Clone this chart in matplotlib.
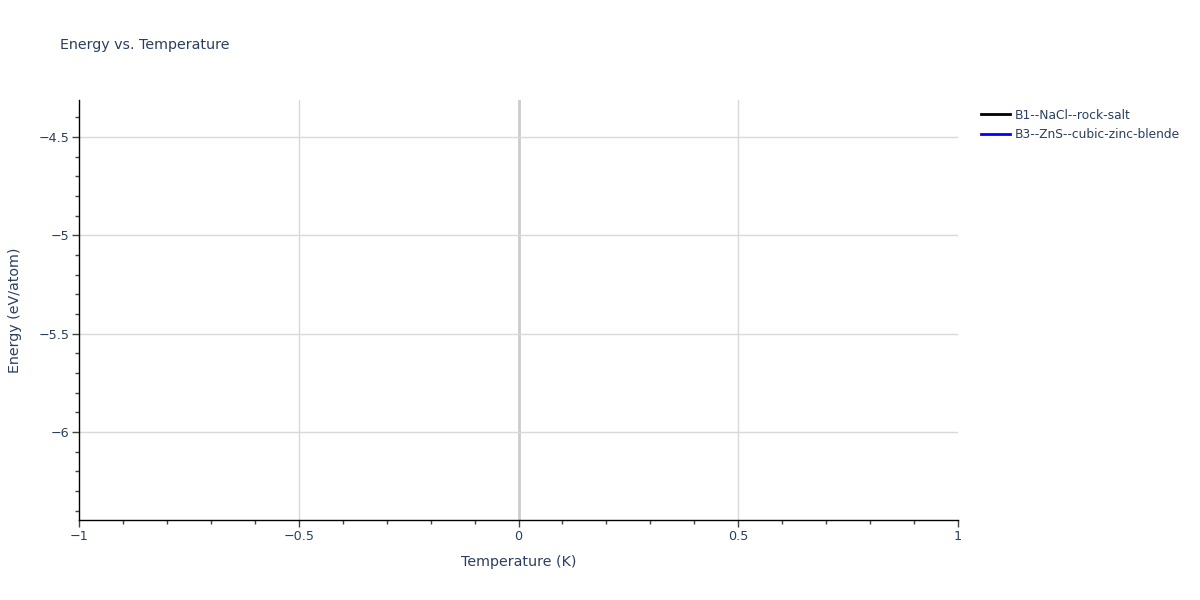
import numpy as np
import matplotlib.pyplot as plt
from matplotlib.ticker import MultipleLocator, FuncFormatter

# each structure has a single point at T = 0, so no line is visible
temperature_b1 = [0.0]
energy_b1 = [-6.35]
temperature_b3 = [0.0]
energy_b3 = [-4.41]
series_names = ['B1--NaCl--rock-salt', 'B3--ZnS--cubic-zinc-blende']
series_colors = ['black', 'blue']

text_col = '#2a3f5f'
grid_col = '#d9d9d9'

plt.rcParams['font.family'] = ['DejaVu Sans']

fig = plt.figure(figsize=(12, 6), dpi=100)
ax = fig.add_axes([79 / 1200, 80 / 600, (958 - 79) / 1200, 420 / 600])

ax.plot(temperature_b1, energy_b1, color=series_colors[0], lw=2, label=series_names[0])
ax.plot(temperature_b3, energy_b3, color=series_colors[1], lw=2, label=series_names[1])

ax.set_xlim(-1, 1)
ax.set_ylim(-6.447, -4.312)

ax.xaxis.set_major_locator(MultipleLocator(0.5))
ax.xaxis.set_minor_locator(MultipleLocator(0.1))
ax.yaxis.set_major_locator(MultipleLocator(0.5))
ax.yaxis.set_minor_locator(MultipleLocator(0.1))
fmt = FuncFormatter(lambda v, p: ('%g' % v).replace('-', '\u2212'))
ax.xaxis.set_major_formatter(fmt)
ax.yaxis.set_major_formatter(fmt)

# horizontal grid from the axis, vertical grid drawn by hand so the zero line is not doubled
ax.grid(True, axis='y', which='major', color=grid_col, lw=1)
for xv in ax.get_xticks():
    if -1 < xv < 1:
        if abs(xv) < 1e-9:
            ax.axvline(xv, color='#cccccc', lw=2, zorder=0.5)
        else:
            ax.axvline(xv, color=grid_col, lw=1, zorder=0.5)
ax.set_axisbelow(True)

for side in ['top', 'right']:
    ax.spines[side].set_visible(False)
for side in ['left', 'bottom']:
    ax.spines[side].set_color('black')
    ax.spines[side].set_linewidth(1)

ax.tick_params(which='major', length=5, width=1, color='#444444', labelcolor=text_col,
               labelsize=9.2, pad=2)
ax.tick_params(which='minor', length=3, width=1, color='#444444')

ax.set_xlabel('Temperature (K)', color=text_col, fontsize=10.3, labelpad=9)
ax.set_ylabel('Energy (eV/atom)', color=text_col, fontsize=10.3, labelpad=12)

fig.text(60 / 1200, 1 - 45 / 600, 'Energy vs. Temperature', color=text_col,
         fontsize=10.3, va='center', ha='left')

leg = ax.legend(loc='upper left', bbox_to_anchor=(1.016, 1.0), frameon=False,
                fontsize=8.8, handlelength=2.4, handletextpad=0.4, labelspacing=0.55,
                borderaxespad=0.3)
for t in leg.get_texts():
    t.set_color(text_col)

fig.savefig('out.png', dpi=100)
